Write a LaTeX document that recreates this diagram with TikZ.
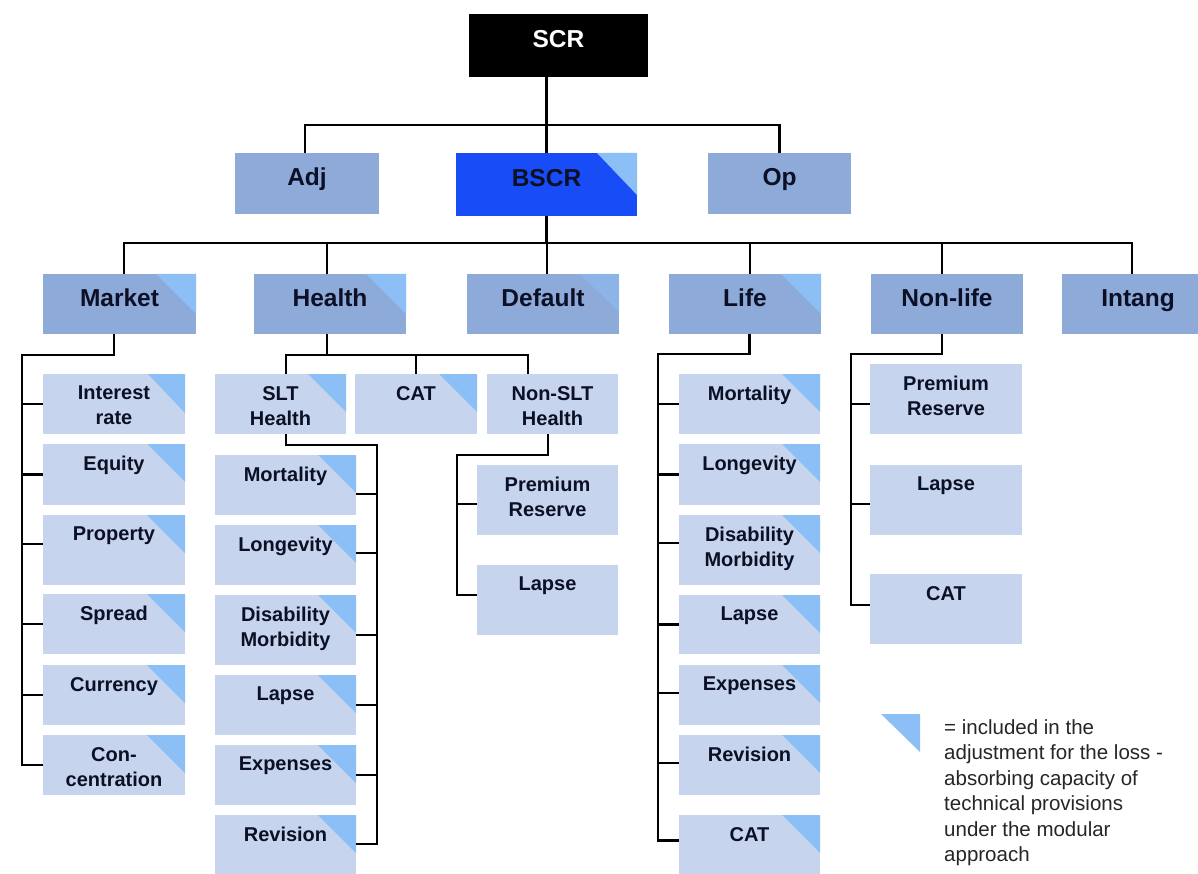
\documentclass[tikz,border=0pt]{standalone}
\usepackage{fontspec}
\setmainfont{Liberation Sans}
\definecolor{lvlc}{RGB}{141,170,216}
\definecolor{chc}{RGB}{198,213,237}
\definecolor{tric}{RGB}{140,191,246}
\definecolor{bscrc}{RGB}{24,76,246}
\definecolor{txtc}{RGB}{12,16,38}
\tikzset{
  boxbase/.style={inner sep=0pt, outer sep=0pt, draw=none},
  lvlbox/.style={boxbase, fill=lvlc},
  chbox/.style={boxbase, fill=chc},
  topbox/.style={boxbase, fill=black},
  bluebox/.style={boxbase, fill=bscrc},
  ltext/.style={inner sep=0pt, text=txtc, font=\fontsize{24.5}{28}\bfseries\selectfont},
  ctext/.style={inner sep=0pt, text=txtc, align=center, font=\fontsize{20}{25}\bfseries\selectfont},
  conn/.style={draw=black, line width=2.7pt},
}
% name, style, x1, y1, x2, y2
\newcommand{\bx}[6]{\node[#2, minimum width={#5-#3}, minimum height={#6-#4}] (#1) at ({(#3+#5)/2},{(#4+#6)/2}) {};}
% name, width, height
\newcommand{\trimark}[3]{\fill[tric] (#1.north east) -- ++(-#2,0) -- ++(#2,#3) -- cycle;}
% level label
\newcommand{\ltxt}[2]{\node[ltext, anchor=base] (#1-t) at ([yshift=-2pt]#1.center) {#2};}
% child label
\newcommand{\ctxt}[2]{\node[ctext, anchor=north] (#1-t) at ([yshift=-12pt]#1.north) {#2};}
\begin{document}
\begin{tikzpicture}[x=1pt,y=-1pt]
\useasboundingbox (0,0) rectangle (1198,874);
\fill[white] (0,0) rectangle (1198,874);
\clip (0,0) rectangle (1198,874);

% ---------- top levels ----------
\bx{scr}{topbox}{469}{14}{648}{77}
\node[ltext, text=white, anchor=base] (scr-t) at ([yshift=-2pt]scr.center) {SCR};
\bx{adj}{lvlbox}{235}{153}{379}{214} \ltxt{adj}{Adj}
\bx{bscr}{bluebox}{456}{153}{637}{216} \trimark{bscr}{40}{42} \ltxt{bscr}{BSCR}
\bx{op}{lvlbox}{708}{153}{851}{214} \ltxt{op}{Op}

% ---------- level 2 ----------
\bx{market}{lvlbox}{43}{274}{196}{334} \trimark{market}{40}{40} \ltxt{market}{Market}
\bx{health}{lvlbox}{254}{274}{406}{334} \trimark{health}{40}{40} \ltxt{health}{Health}
\bx{default}{lvlbox}{467}{274}{619}{334}
\fill[tric, opacity=0.5] (default.north east) -- ++(-39,0) -- ++(39,38) -- cycle;
\ltxt{default}{Default}
\bx{life}{lvlbox}{669}{274}{821}{334} \trimark{life}{40}{40} \ltxt{life}{Life}
\bx{nonlife}{lvlbox}{871}{274}{1023}{334} \ltxt{nonlife}{Non-life}
\bx{intang}{lvlbox}{1062}{274}{1214}{334} \ltxt{intang}{Intang}

% ---------- market children ----------
\bx{ir}{chbox}{43}{374}{185}{434} \trimark{ir}{37}{39} \ctxt{ir}{Interest\\rate}
\bx{eq}{chbox}{43}{444}{185}{505} \trimark{eq}{38}{38} \ctxt{eq}{Equity}
\bx{pr}{chbox}{43}{515}{185}{585} \trimark{pr}{38}{38} \ctxt{pr}{Property}
\bx{sp}{chbox}{43}{594}{185}{654} \trimark{sp}{38}{38} \ctxt{sp}{Spread}
\bx{cu}{chbox}{43}{665}{185}{725} \trimark{cu}{38}{38} \ctxt{cu}{Currency}
\bx{co}{chbox}{43}{735}{185}{795} \trimark{co}{38}{38} \ctxt{co}{Con-\\centration}

% ---------- health children ----------
\bx{slt}{chbox}{215}{374}{346}{434} \trimark{slt}{38}{38} \ctxt{slt}{SLT\\Health}
\bx{hcat}{chbox}{355}{374}{477}{434} \trimark{hcat}{38}{38} \ctxt{hcat}{CAT}
\bx{nslt}{chbox}{487}{374}{618}{434} \ctxt{nslt}{Non-SLT\\Health}

\bx{sm}{chbox}{215}{455}{356}{515} \trimark{sm}{38}{38} \ctxt{sm}{Mortality}
\bx{sl}{chbox}{215}{525}{356}{585} \trimark{sl}{38}{38} \ctxt{sl}{Longevity}
\bx{sd}{chbox}{215}{595}{356}{665} \trimark{sd}{38}{38} \ctxt{sd}{Disability\\Morbidity}
\bx{sla}{chbox}{215}{675}{356}{735} \trimark{sla}{38}{38} \ctxt{sla}{Lapse}
\bx{se}{chbox}{215}{745}{356}{805} \trimark{se}{38}{38} \ctxt{se}{Expenses}
\bx{sr}{chbox}{215}{815}{356}{875} \trimark{sr}{38}{38} \ctxt{sr}{Revision}

\bx{np}{chbox}{477}{465}{618}{535} \ctxt{np}{Premium\\Reserve}
\bx{nl}{chbox}{477}{565}{618}{635} \ctxt{nl}{Lapse}

% ---------- life children ----------
\bx{lm}{chbox}{679}{374}{820}{434} \trimark{lm}{38}{38} \ctxt{lm}{Mortality}
\bx{ll}{chbox}{679}{444}{820}{505} \trimark{ll}{38}{38} \ctxt{ll}{Longevity}
\bx{ld}{chbox}{679}{515}{820}{585} \trimark{ld}{38}{38} \ctxt{ld}{Disability\\Morbidity}
\bx{lla}{chbox}{679}{595}{820}{654} \trimark{lla}{38}{38} \ctxt{lla}{Lapse}
\bx{le}{chbox}{679}{665}{820}{725} \trimark{le}{38}{38} \ctxt{le}{Expenses}
\bx{lr}{chbox}{679}{735}{820}{795} \trimark{lr}{38}{38} \ctxt{lr}{Revision}
\bx{lc}{chbox}{679}{815}{820}{876} \trimark{lc}{38}{38} \ctxt{lc}{CAT}

% ---------- non-life children ----------
\bx{nlp}{chbox}{870}{364}{1022}{434} \ctxt{nlp}{Premium\\Reserve}
\bx{nll}{chbox}{870}{465}{1022}{535} \ctxt{nll}{Lapse}
\bx{nlc}{chbox}{870}{574}{1022}{644} \ctxt{nlc}{CAT}

% ---------- connectors ----------
% SCR -> Adj / BSCR / Op
\coordinate (b1) at ([yshift=-48pt]scr.south);
\coordinate (adjd) at ([xshift=-2pt]adj.north);
\draw[conn] (scr.south -| bscr.north) -- (bscr.north);
\draw[conn] (adjd) |- (op.north |- b1) -- (op.north);

% BSCR -> risk modules
\coordinate (b2) at ([yshift=-27pt]bscr.south);
\coordinate (mkd) at ([xshift=4.5pt]market.north);
\coordinate (hed) at ([xshift=-3pt]health.north);
\coordinate (ded) at ([xshift=4pt]default.north);
\coordinate (lid) at ([xshift=5pt]life.north);
\coordinate (nld) at ([xshift=-5pt]nonlife.north);
\coordinate (ind) at ([xshift=-6pt]intang.north);
\draw[conn] (bscr.south) -- (bscr.south |- b2);
\draw[conn] (mkd) |- (ind |- b2) -- (ind);
\foreach \d in {hed, ded, lid, nld}
  \draw[conn] (\d |- b2) -- (\d);

% Market
\coordinate (mks) at ([xshift=-5.5pt]market.south);
\draw[conn] (mks) -- ++(0,21) -| ([xshift=-21pt]co.west) -- (co.west);
\foreach \c/\s in {ir/0, eq/0, pr/6, sp/0, cu/0}
  \draw[conn] ([xshift=-21pt,yshift=\s pt]\c.west) -- ([yshift=\s pt]\c.west);

% Health
\coordinate (hes) at ([xshift=-3pt]health.south);
\coordinate (b3) at ([yshift=-21pt]health.south);
\coordinate (sltd) at ([xshift=5.5pt]slt.north);
\coordinate (nsltd) at ([xshift=-24.5pt]nslt.north);
\draw[conn] (hes) -- (hes |- b3);
\draw[conn] (sltd) |- (nsltd |- b3) -- (nsltd);
\draw[conn] (hcat.north |- b3) -- (hcat.north);

% SLT Health
\coordinate (slts) at ([xshift=5.5pt]slt.south);
\draw[conn] (slts) -- ++(0,11) -| ([xshift=21pt,yshift=1pt]sr.east) -- ([yshift=1pt]sr.east);
\foreach \c/\s in {sm/-9, sl/2, sd/-5, sla/0, se/0}
  \draw[conn] ([xshift=21pt,yshift=\s pt]\c.east) -- ([yshift=\s pt]\c.east);

% Non-SLT Health
\coordinate (nslts) at ([xshift=-4.5pt]nslt.south);
\draw[conn] (nslts) -- ++(0,21) -| ([xshift=-20pt,yshift=5pt]nl.west) -- ([yshift=5pt]nl.west);
\draw[conn] ([xshift=-20pt,yshift=-4pt]np.west) -- ([yshift=-4pt]np.west);

% Life
\coordinate (lis) at ([xshift=4.5pt]life.south);
\draw[conn] (lis) -- ++(0,20) -| ([xshift=-21pt,yshift=5pt]lc.west) -- ([yshift=5pt]lc.west);
\foreach \c/\s in {lm/0, ll/0, ld/7, lla/0, le/2, lr/2}
  \draw[conn] ([xshift=-21pt,yshift=\s pt]\c.west) -- ([yshift=\s pt]\c.west);

% Non-life
\coordinate (nls) at ([xshift=-5pt]nonlife.south);
\draw[conn] (nls) -- ++(0,20) -| ([xshift=-19pt,yshift=4pt]nlc.west) -- ([yshift=4pt]nlc.west);
\foreach \c/\s in {nlp/-5, nll/-4}
  \draw[conn] ([xshift=-19pt,yshift=\s pt]\c.west) -- ([yshift=\s pt]\c.west);

% ---------- legend ----------
\coordinate (legtri) at (920,714);
\fill[tric] (legtri) -- ++(-39,0) -- ++(39,38) -- cycle;
\node[inner sep=0pt, anchor=north west, align=left, text=black!85,
      font=\fontsize{20.5}{25.5}\selectfont] (legend) at (944,719)
  {= included in the\\adjustment for the loss -\\absorbing capacity of\\technical provisions\\under the modular\\approach};
\end{tikzpicture}
\end{document}
